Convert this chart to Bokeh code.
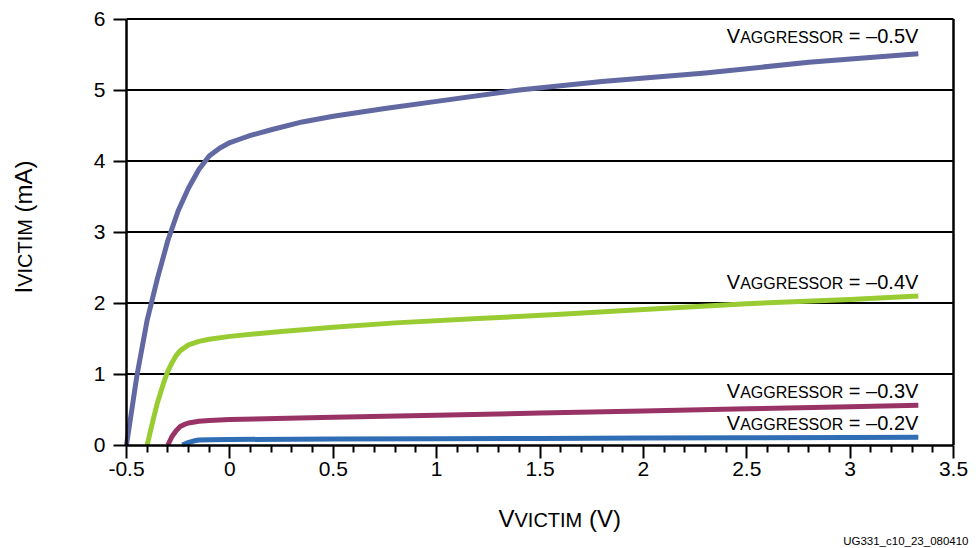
import math
from bokeh.plotting import figure
from bokeh.models import Range1d, FixedTicker, Label
from bokeh.embed import file_html
from bokeh.resources import INLINE

# ---------------- data ----------------
v_05 = [-0.5, -0.45, -0.4, -0.35, -0.3, -0.25, -0.2, -0.15, -0.1, -0.05, 0.0, 0.05, 0.1, 0.2, 0.35, 0.5, 0.75, 1.0, 1.4, 1.8, 2.3, 2.8, 3.33]
i_05 = [0.0, 0.97, 1.76, 2.35, 2.88, 3.3, 3.62, 3.88, 4.07, 4.18, 4.26, 4.31, 4.36, 4.44, 4.55, 4.63, 4.74, 4.84, 5.0, 5.12, 5.24, 5.39, 5.51]

v_04 = [-0.4, -0.37, -0.35, -0.32, -0.3, -0.28, -0.26, -0.24, -0.2, -0.15, -0.1, 0.0, 0.25, 0.5, 0.8, 1.2, 1.6, 2.0, 2.5, 3.0, 3.33]
i_04 = [0.0, 0.37, 0.6, 0.88, 1.04, 1.16, 1.26, 1.33, 1.41, 1.46, 1.49, 1.53, 1.6, 1.66, 1.72, 1.78, 1.84, 1.91, 1.99, 2.05, 2.10]

v_03 = [-0.3, -0.28, -0.26, -0.24, -0.22, -0.2, -0.15, -0.1, 0.0, 0.5, 1.0, 1.5, 2.0, 2.5, 3.0, 3.33]
i_03 = [0.0, 0.12, 0.2, 0.26, 0.29, 0.31, 0.335, 0.345, 0.36, 0.39, 0.42, 0.45, 0.48, 0.51, 0.54, 0.56]

v_02 = [-0.23, -0.21, -0.19, -0.17, -0.15, -0.1, 0.0, 0.5, 1.0, 1.5, 2.0, 2.5, 3.0, 3.33]
i_02 = [0.0, 0.025, 0.045, 0.06, 0.07, 0.075, 0.078, 0.083, 0.088, 0.093, 0.098, 0.103, 0.107, 0.11]

aggressor_values = ["\u20130.5V", "\u20130.4V", "\u20130.3V", "\u20130.2V"]

x_ticks = [-0.5, 0, 0.5, 1, 1.5, 2, 2.5, 3, 3.5]
x_tick_labels = ["-0.5", "0", "0.5", "1", "1.5", "2", "2.5", "3", "3.5"]
x_minor_ticks = [-0.4, -0.3, -0.2, -0.1, 0.1, 0.2, 0.3, 0.4, 0.6, 0.7, 0.8, 0.9,
                 1.1, 1.2, 1.3, 1.4, 1.6, 1.7, 1.8, 1.9, 2.1, 2.2, 2.3, 2.4,
                 2.6, 2.7, 2.8, 2.9, 3.1, 3.2, 3.3, 3.4]
y_ticks = [0, 1, 2, 3, 4, 5, 6]
y_tick_labels = ["0", "1", "2", "3", "4", "5", "6"]

footnote = "UG331_c10_23_080410"

# ---------------- styles / layout ----------------
series = [(v_05, i_05), (v_04, i_04), (v_03, i_03), (v_02, i_02)]
colors = ["#6168A2", "#99CC33", "#993366", "#2F6DB5"]
label_gap_px = [10, 6, 7, 7]
FONT = "Liberation Sans"
NB = "\u00a0"
BASE_FIX = 0.38          # renderer places 'alphabetic' text this many ems too low

W, H = 978, 548
X0, X1, Y0, Y1 = -0.5, 3.5, 0.0, 6.0
FL, FR, FT, FB = 126, 953, 18.5, 444.5   # chart area edges on the canvas (px)
SX = (FR - FL) / (X1 - X0)
SY = (FB - FT) / (Y1 - Y0)

def px2x(px):
    return X0 + (px - FL) / SX

def py2y(py):
    return Y0 + (FB - py) / SY

# Arial / Liberation Sans advance widths (per em)
ADV = {" ": .278, NB: .278, "=": .584, "\u2013": .556, ".": .278, "V": .667, "A": .667, "G": .778,
       "R": .722, "E": .667, "S": .667, "O": .778, "I": .278, "C": .722, "T": .611,
       "M": .833, "(": .333, ")": .333, "m": .833}

def tw(s, size):
    return sum(ADV.get(c, .556) for c in s) * size

p = figure(width=W, height=H,
           x_range=Range1d(px2x(0), px2x(W)), y_range=Range1d(py2y(H), py2y(0)),
           output_backend="svg", toolbar_location=None,
           min_border_left=0, min_border_right=0, min_border_top=0, min_border_bottom=0)
p.background_fill_color = "white"
p.border_fill_color = "white"
p.outline_line_color = None
p.xgrid.visible = False
p.ygrid.visible = False

# horizontal grid lines (incl. top border) and right border, bounded to the chart area
gy = y_ticks[1:]
p.segment(x0=[X0] * len(gy), y0=gy, x1=[X1] * len(gy), y1=gy,
          line_color="black", line_width=2, level="underlay")
p.segment(x0=[X1], y0=[Y0], x1=[X1], y1=[Y1], line_color="black", line_width=2.5,
          level="underlay")

p.xaxis.fixed_location = Y0
p.xaxis.bounds = (X0, X1)
p.yaxis.fixed_location = X0
p.yaxis.bounds = (Y0, Y1)

p.xaxis.ticker = FixedTicker(ticks=x_ticks, minor_ticks=x_minor_ticks)
p.xaxis.major_label_overrides = {t: l for t, l in zip(x_ticks, x_tick_labels)}
p.yaxis.ticker = FixedTicker(ticks=y_ticks)
p.yaxis.major_label_overrides = {t: l for t, l in zip(y_ticks, y_tick_labels)}

for ax in (p.xaxis, p.yaxis):
    ax.axis_line_color = "black"
    ax.axis_line_width = 2.5
    ax.major_tick_line_color = "black"
    ax.major_tick_line_width = 2
    ax.major_tick_out = 13
    ax.major_tick_in = 0
    ax.major_label_text_font = FONT
    ax.major_label_text_font_size = "21px"
    ax.major_label_text_color = "black"
p.xaxis.minor_tick_line_color = "black"
p.xaxis.minor_tick_line_width = 2
p.xaxis.minor_tick_out = 7
p.xaxis.minor_tick_in = 0
p.xaxis.major_label_standoff = 4
p.yaxis.minor_tick_line_color = None
p.yaxis.major_label_standoff = 8

for (vx, iy), c in zip(series, colors):
    p.line(vx, iy, line_color=c, line_width=5, line_join="round")

def add_label(x, y, text, size, align="left", angle=0.0):
    p.add_layout(Label(x=x, y=y, text=text, text_font=FONT, text_font_size=f"{size}px",
                       text_color="black", text_align=align, text_baseline="alphabetic",
                       angle=angle))

# curve labels: V (big) + AGGRESSOR (small) + " = value" (big), right-aligned at curve end
BIG, SMALL = 20, 16
for (vx, iy), val, gap in zip(series, aggressor_values, label_gap_px):
    parts = [("V", BIG), ("AGGRESSOR", SMALL), (NB + "=" + NB + val, BIG)]
    total = sum(tw(t, s) for t, s in parts)
    x = vx[-1] - total / SX
    for t, s in parts:
        yb = iy[-1] + (gap + BASE_FIX * s) / SY
        add_label(x, yb, t, s)
        x += tw(t, s) / SX

# axis titles (composite)
TB, TS = 24, 20
x = px2x(498)
for t, s in [("V", TB), ("VICTIM", TS), (NB + "(V)", TB)]:
    add_label(x, py2y(527 - BASE_FIX * s), t, s)
    x += tw(t, s) / SX

y = py2y(293)
for t, s in [("I", TB), ("VICTIM", TS), (NB + "(mA)", TB)]:
    add_label(px2x(32 - BASE_FIX * s), y, t, s, angle=math.pi / 2)
    y += tw(t, s) / SY

# footnote
add_label(px2x(968), py2y(545 - BASE_FIX * 11.5), footnote, 11.5, align="right")

open("out.html", "w").write(file_html(p, INLINE))
